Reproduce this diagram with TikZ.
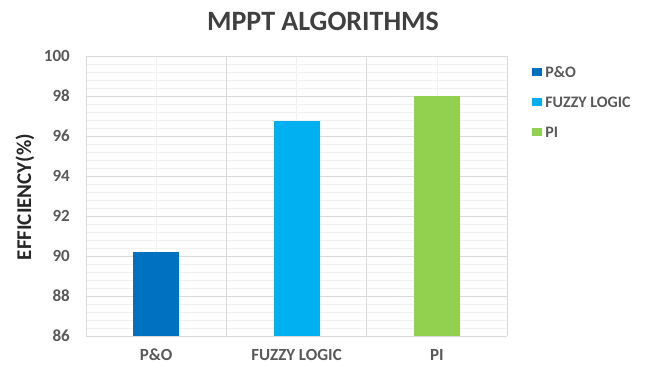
\documentclass[tikz,border=0pt]{standalone}
\usepackage{fontspec}
\setmainfont{Carlito}
\usepackage{xcolor}
\usepackage{tikz}
\usetikzlibrary{positioning}
\definecolor{pobar}{HTML}{0070C0}
\definecolor{fzbar}{HTML}{00B0F0}
\definecolor{pibar}{HTML}{92D050}
\definecolor{txtgray}{HTML}{595959}
\definecolor{gridmaj}{HTML}{D9D9D9}
\definecolor{gridmin}{HTML}{F0F0F0}

\begin{document}
\begin{tikzpicture}[x=1pt,y=1pt,
  tk/.style={font=\fontsize{17}{17}\selectfont\bfseries,text=txtgray,anchor=east,inner sep=0pt},
  cat/.style={font=\fontsize{17}{17}\selectfont\bfseries,text=txtgray,inner sep=0pt},
  leg/.style={font=\fontsize{16}{16}\selectfont\bfseries,text=txtgray,anchor=west,inner sep=0pt},
  key/.style={minimum width=10pt,minimum height=8pt,inner sep=0pt}]
\useasboundingbox (0,0) rectangle (648,366);
% title
\node[font=\fontsize{28}{28}\selectfont\bfseries,text=black!75] (ttl) at (323,345) {MPPT ALGORITHMS};
\begin{scope}[shift={(86,30)},y=20pt]
% grid
\foreach \i in {1,...,34} \draw[gridmin,line width=0.5pt] (0,{0.4*\i}) -- (421,{0.4*\i});
\foreach \x in {70.2,210.5,350.8} \draw[gridmin,line width=0.5pt] (\x,0) -- (\x,14);
\foreach \v in {0,2,...,14} \draw[gridmaj,line width=0.8pt] (0,\v) -- (421,\v);
\foreach \x in {0,140.3,280.7,421} \draw[gridmaj,line width=0.8pt] (\x,0) -- (\x,14);
% ticks
\foreach \lab in {86,88,...,100} \node[tk] (tk\lab) at (-16,\lab-86) {\lab};
% bars
\foreach \nm/\xc/\val/\col/\txt in {po/70.2/90.2/pobar/P\&O,fz/210.5/96.75/fzbar/FUZZY LOGIC,pi/350.8/98.0/pibar/PI}{
  \fill[\col] (\xc-23,0) rectangle (\xc+23,\val-86);
  \node[cat] (c\nm) at (\xc,-0.95) {\txt};
}
\end{scope}
% axis title
\node[rotate=90,font=\fontsize{21}{21}\selectfont\bfseries,text=black!85] (ylab) at (25,169) {EFFICIENCY(\%)};
% legend
\node[key,fill=pobar] (kpo) at (537,294) {};
\node[leg,right=3pt of kpo] (lpo) {P\&O};
\node[key,fill=fzbar] (kfz) at (537,264) {};
\node[leg,right=3pt of kfz] (lfz) {FUZZY LOGIC};
\node[key,fill=pibar] (kpi) at (537,234) {};
\node[leg,right=3pt of kpi] (lpi) {PI};
\end{tikzpicture}
\end{document}
